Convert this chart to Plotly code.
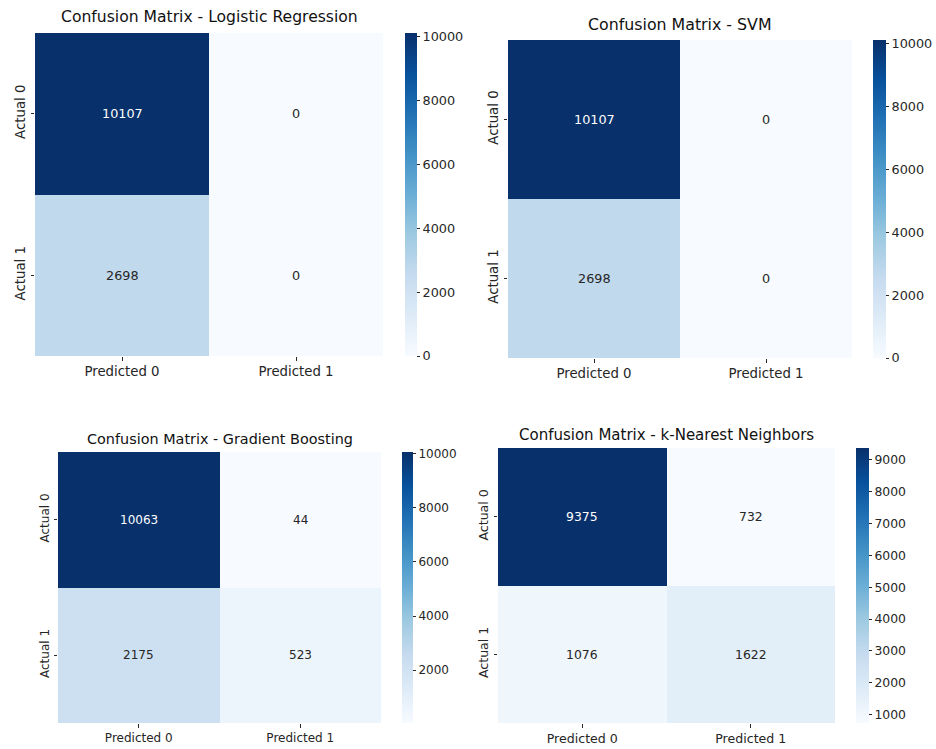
import plotly.graph_objects as go

# ---- data ----
models = ["Logistic Regression", "SVM", "Gradient Boosting", "k-Nearest Neighbors"]
col_labels = ["Predicted 0", "Predicted 1"]
row_labels = ["Actual 0", "Actual 1"]
cm_logreg = [[10107, 0], [2698, 0]]
cm_svm = [[10107, 0], [2698, 0]]
cm_gb = [[10063, 44], [2175, 523]]
cm_knn = [[9375, 732], [1076, 1622]]
cbar_ticks_logreg = [0, 2000, 4000, 6000, 8000, 10000]
cbar_ticks_svm = [0, 2000, 4000, 6000, 8000, 10000]
cbar_ticks_gb = [2000, 4000, 6000, 8000, 10000]
cbar_ticks_knn = [1000, 2000, 3000, 4000, 5000, 6000, 7000, 8000, 9000]

W, H = 936, 749
blues = ["#f7fbff", "#deebf7", "#c6dbef", "#9ecae1", "#6baed6",
         "#4292c6", "#2171b5", "#08519c", "#08306b"]
cscale = [[i / 8, c] for i, c in enumerate(blues)]


def hex2rgb(h):
    h = h.lstrip("#")
    return [int(h[i:i + 2], 16) / 255 for i in (0, 2, 4)]


def interp(t):
    t = min(max(t, 0), 1)
    pos = t * 8
    i = min(int(pos), 7)
    f = pos - i
    a, b = hex2rgb(blues[i]), hex2rgb(blues[i + 1])
    return [a[k] + (b[k] - a[k]) * f for k in range(3)]


def lum(rgb):
    out = []
    for c in rgb:
        out.append(c / 12.92 if c <= 0.03928 else ((c + 0.055) / 1.055) ** 2.4)
    return 0.2126 * out[0] + 0.7152 * out[1] + 0.0722 * out[2]


# pixel layout of each panel: heatmap box (l, r, t, b), colorbar (left, width), fonts
panels = [
    dict(cm=cm_logreg, ticks=cbar_ticks_logreg, box=(35, 383, 33, 356), cb=(405, 12),
         title_y=17, tfs=15.6, lfs=13.3, cfs=12.8, afs=12.8),
    dict(cm=cm_svm, ticks=cbar_ticks_svm, box=(508, 852, 40, 358), cb=(873, 13),
         title_y=25, tfs=15.8, lfs=13.3, cfs=12.8, afs=12.8),
    dict(cm=cm_gb, ticks=cbar_ticks_gb, box=(58, 381, 452, 723), cb=(402, 11),
         title_y=439, tfs=14.4, lfs=12, cfs=12, afs=12),
    dict(cm=cm_knn, ticks=cbar_ticks_knn, box=(498, 835, 448, 723), cb=(856, 13),
         title_y=435, tfs=15, lfs=12.6, cfs=12.4, afs=12.4),
]

fig = go.Figure()
annotations = []
FONT = "DejaVu Sans"
TXT = "#262626"

for k, (name, p) in enumerate(zip(models, panels)):
    n = k + 1
    xa = "x" if n == 1 else f"x{n}"
    ya = "y" if n == 1 else f"y{n}"
    l, r, t, b = p["box"]
    cm = p["cm"]
    flat = [v for row in cm for v in row]
    zmin, zmax = min(flat), max(flat)
    cbl, cbw = p["cb"]
    fig.add_trace(go.Heatmap(
        z=cm, x=col_labels, y=row_labels, xaxis=xa, yaxis=ya,
        colorscale=cscale, zmin=zmin, zmax=zmax, hoverinfo="z",
        colorbar=dict(
            x=cbl / W, xanchor="left", xpad=0, ypad=0,
            y=1 - t / H, yanchor="top", len=(b - t) / H, lenmode="fraction",
            thickness=cbw, thicknessmode="pixels", outlinewidth=0,
            tickvals=p["ticks"], tickformat="d", ticks="outside", ticklen=3.5,
            tickwidth=0.8, tickcolor=TXT,
            tickfont=dict(family=FONT, size=p["cfs"], color=TXT),
        ),
    ))
    fig.layout[f"xaxis{'' if n == 1 else n}"] = dict(
        domain=[l / W, r / W], anchor=ya, showgrid=False, zeroline=False,
        ticks="outside", ticklen=3.5, tickwidth=0.8, tickcolor=TXT,
        tickfont=dict(family=FONT, size=p["lfs"], color=TXT), showline=False,
    )
    fig.layout[f"yaxis{'' if n == 1 else n}"] = dict(
        domain=[1 - b / H, 1 - t / H], anchor=xa, showgrid=False, zeroline=False,
        autorange="reversed", ticks="outside", ticklen=3.5, tickwidth=0.8,
        tickcolor=TXT, tickangle=-90,
        tickfont=dict(family=FONT, size=p["lfs"], color=TXT), showline=False,
    )
    for i, rl in enumerate(row_labels):
        for j, clab in enumerate(col_labels):
            v = cm[i][j]
            tnorm = (v - zmin) / (zmax - zmin) if zmax > zmin else 0
            col = "#ffffff" if lum(interp(tnorm)) <= 0.408 else TXT
            annotations.append(dict(
                x=clab, y=rl, xref=xa, yref=ya, text=str(v), showarrow=False,
                font=dict(family=FONT, size=p["afs"], color=col),
            ))
    annotations.append(dict(
        x=(l + r) / 2 / W, y=1 - p["title_y"] / H, xref="paper", yref="paper",
        text=f"Confusion Matrix - {name}", showarrow=False,
        xanchor="center", yanchor="middle",
        font=dict(family=FONT, size=p["tfs"], color="#111111"),
    ))

fig.update_layout(
    width=W, height=H, margin=dict(l=0, r=0, t=0, b=0),
    paper_bgcolor="white", plot_bgcolor="white",
    annotations=annotations, showlegend=False,
    font=dict(family=FONT),
)
fig.write_html("out.html")
